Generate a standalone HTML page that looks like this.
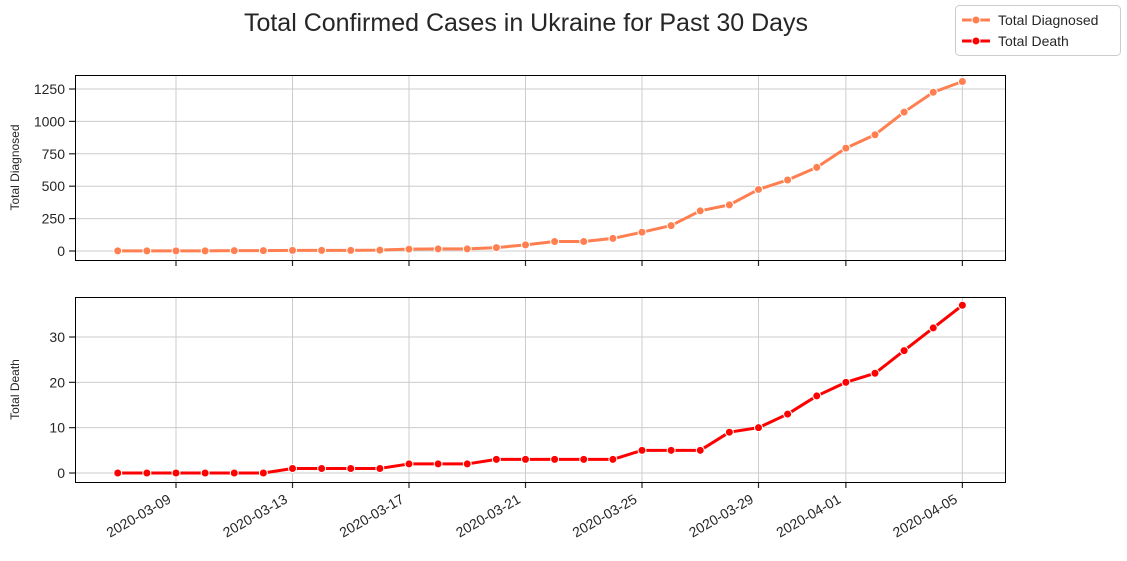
<!DOCTYPE html>
<html><head><meta charset="utf-8"><style>
body{margin:0;background:#fff;font-family:"Liberation Sans",sans-serif;}
svg text{font-family:"Liberation Sans",sans-serif;fill:#262626;}
</style></head><body>
<svg id="c" width="1127" height="556" xmlns="http://www.w3.org/2000/svg">
<text x="526" y="31" font-size="25" text-anchor="middle">Total Confirmed Cases in Ukraine for Past 30 Days</text>
<g>
<rect x="955.5" y="5.5" width="165" height="50" rx="4" fill="#fff" stroke="#ccc"/>
<line x1="962" y1="20" x2="990" y2="20" stroke="#ff7f50" stroke-width="3"/><circle cx="976" cy="20" r="4" fill="#ff7f50" stroke="#fff"/>
<text x="998" y="25" font-size="14">Total Diagnosed</text>
<line x1="962" y1="41" x2="990" y2="41" stroke="#ff0000" stroke-width="3"/><circle cx="976" cy="41" r="4" fill="#ff0000" stroke="#fff"/>
<text x="998" y="46" font-size="14">Total Death</text>
</g>
<g id="g"></g>
</svg>
<script>
const dates=["2020-03-07","2020-03-08","2020-03-09","2020-03-10","2020-03-11","2020-03-12","2020-03-13","2020-03-14","2020-03-15","2020-03-16","2020-03-17","2020-03-18","2020-03-19","2020-03-20","2020-03-21","2020-03-22","2020-03-23","2020-03-24","2020-03-25","2020-03-26","2020-03-27","2020-03-28","2020-03-29","2020-03-30","2020-03-31","2020-04-01","2020-04-02","2020-04-03","2020-04-04","2020-04-05"];
const diagnosed=[1,1,1,1,3,3,5,5,5,7,14,16,16,26,47,73,73,97,145,196,310,356,475,548,645,794,897,1072,1225,1308];
const deaths=[0,0,0,0,0,0,1,1,1,1,2,2,2,3,3,3,3,3,5,5,5,9,10,13,17,20,22,27,32,37];
const xTicks=["2020-03-09","2020-03-13","2020-03-17","2020-03-21","2020-03-25","2020-03-29","2020-04-01","2020-04-05"];
const yTicksTop=[0,250,500,750,1000,1250];
const yTicksBot=[0,10,20,30];
const NS="http://www.w3.org/2000/svg";
const g=document.getElementById('g');
const day=s=>Date.parse(s)/864e5;
const d0=day(dates[0]);
const X=s=>117.75+(day(s)-d0)*29.125;
function el(t,a,p){const e=document.createElementNS(NS,t);for(const k in a)e.setAttribute(k,a[k]);(p||g).appendChild(e);return e;}
function panelExact(top,bot,Y,yTicks,vals,color,label,name,showX){
  const pg=el('g',{});
  
  
  xTicks.forEach(t=>{const x=X(t);el('line',{x1:x,x2:x,y1:top,y2:bot,stroke:'#ccc','stroke-width':1},pg);
    el('line',{x1:x,x2:x,y1:bot,y2:bot+6,stroke:'#262626','stroke-width':1.2},pg);
    if(showX){const ax=x-4,ay=bot+20;const tx=el('text',{x:ax,y:ay,'font-size':14,'text-anchor':'end',transform:`rotate(-30 ${ax} ${ay})`},pg);tx.textContent=t;
      }});
  yTicks.forEach(v=>{const y=Y(v);el('line',{x1:75,x2:1005,y1:y,y2:y,stroke:'#ccc','stroke-width':1},pg);
    el('line',{x1:69,x2:75,y1:y,y2:y,stroke:'#262626','stroke-width':1.2},pg);
    const tx=el('text',{x:65,y:y+5,'font-size':14,'text-anchor':'end'},pg);tx.textContent=v;
    });
  el('rect',{x:75.5,y:top+.5,width:930,height:bot-top,fill:'none',stroke:'#000','stroke-width':1},pg);
  const yl=el('text',{x:0,y:0,'font-size':12,'text-anchor':'middle',transform:`translate(19 ${(top+bot)/2}) rotate(-90)`},pg);yl.textContent=label;
  
  const pts=vals.map((v,i)=>X(dates[i])+','+Y(v)).join(' ');
  const pl=el('polyline',{points:pts,fill:'none',stroke:color,'stroke-width':3,'stroke-linejoin':'round'},pg);
  
  vals.forEach((v,i)=>{const c=el('circle',{cx:X(dates[i]),cy:Y(v),r:4,fill:color,stroke:'#fff','stroke-width':1},pg);
    });
}
const s=(251-89)/1250;
panelExact(75,260,v=>251-v*s,yTicksTop,diagnosed,'#ff7f50','Total Diagnosed','diagnosed',false);
const s2=(473-337)/30;
panelExact(297,482,v=>473-v*s2,yTicksBot,deaths,'#ff0000','Total Death','death',true);
</script>
</body></html>
